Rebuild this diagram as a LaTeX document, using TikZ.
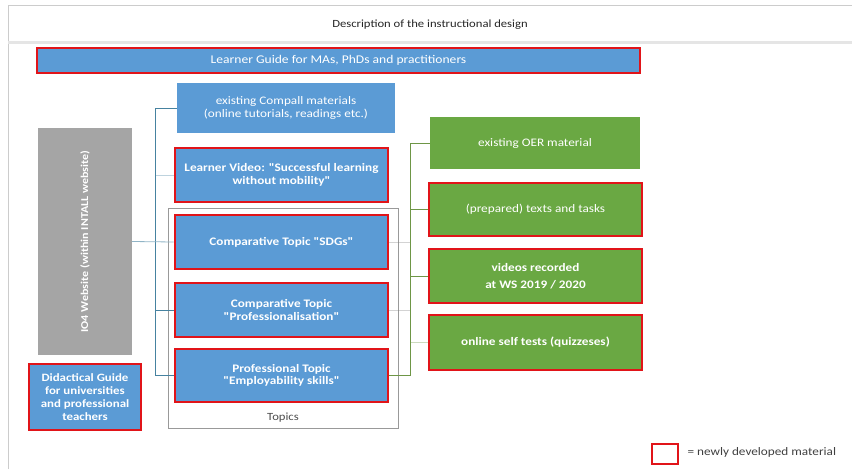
\documentclass[tikz,border=0pt]{standalone}
\usepackage{fontspec}
\setmainfont[FakeStretch=1.15, Ligatures=TeXOff]{Carlito}
\definecolor{boxblue}{RGB}{91,155,213}
\definecolor{boxgreen}{RGB}{106,168,67}
\definecolor{boxgray}{RGB}{165,165,165}
\definecolor{newred}{RGB}{225,20,25}
\definecolor{lineblue}{RGB}{70,130,160}
\definecolor{linegreen}{RGB}{110,150,70}
\begin{document}
\begin{tikzpicture}[x=1pt,y=-1pt,
  base/.style={rectangle, inner sep=2pt, align=center, text=white, font=\fontsize{11.5}{12.5}\selectfont},
  bluebox/.style={base, fill=boxblue},
  greenbox/.style={base, fill=boxgreen},
  newmat/.style={draw=newred, line width=2.6pt, font=\bfseries\fontsize{11.5}{12.5}\selectfont},
  conn/.style={line width=0.8pt},
  faint/.style={line width=0.5pt, opacity=0.35}]
\useasboundingbox (0,0) rectangle (852,469);
% frame
\draw[gray!40, line width=1pt] (8,469) -- (8,5) -- (852,5);
\draw[gray!20, line width=3pt] (8,42) -- (852,42);
\node[font=\fontsize{11}{12}\selectfont, text=black!85] (title) at (430,25) {Description of the instructional design};
% top guide
\node[bluebox, newmat, font=\fontsize{11.8}{12.5}\selectfont, minimum width=603pt, minimum height=25pt] (guide) at (338.5,60.5) {Learner Guide for MAs, PhDs and practitioners};
% middle column
\node[bluebox, minimum width=218pt, minimum height=50pt] (compall) at (286,108) {existing Compall materials\\(online tutorials, readings etc.)};
\node[bluebox, newmat, minimum width=213pt, minimum height=54pt] (video) at (281.5,175) {Learner Video: "Successful learning\\without mobility"};
\draw[gray!80, line width=0.8pt] (168,208) rectangle (398,428);
\node[font=\fontsize{11}{12}\selectfont, text=black!70] (topics) at (283,418) {Topics};
\node[bluebox, newmat, minimum width=213pt, minimum height=54pt] (sdgs) at (281.5,242) {Comparative Topic "SDGs"};
\node[bluebox, newmat, minimum width=213pt, minimum height=54pt] (prof) at (281.5,310) {Comparative Topic\\"Professionalisation"};
\node[bluebox, newmat, minimum width=213pt, minimum height=53pt] (employ) at (281.5,375.5) {Professional Topic\\"Employability skills"};
% left column
\node[base, fill=boxgray, minimum width=94pt, minimum height=227pt] (io4) at (85,241.5) {};
\node[rotate=90, text=white, font=\bfseries\fontsize{10.5}{12}\selectfont] (io4t) at (io4.center) {IO4 Website (within INTALL website)};
\node[bluebox, newmat, minimum width=112pt, minimum height=66pt, font=\bfseries\fontsize{11.2}{13}\selectfont] (didac) at (85,397) {Didactical Guide\\for universities\\and professional\\teachers};
% right column
\node[greenbox, minimum width=210pt, minimum height=52pt] (oer) at (535,143) {existing OER material};
\node[greenbox, newmat, font=\fontsize{11.5}{12.5}\selectfont, minimum width=213pt, minimum height=53pt] (prep) at (535.5,209.5) {(prepared) texts and tasks};
\node[greenbox, newmat, font=\bfseries\fontsize{11.5}{16.5}\selectfont, minimum width=213pt, minimum height=54pt] (vids) at (535.5,276) {videos recorded\\at WS 2019 / 2020};
\node[greenbox, newmat, minimum width=213pt, minimum height=55pt] (quiz) at (535.5,342.5) {online self tests (quizzeses)};
% left connectors
\coordinate (spL) at (155,0);
\coordinate (spR) at (410,0);
\draw[conn, lineblue] (compall.west) -- (compall.west -| spL) |- (employ.west);
\draw[conn, lineblue] (prof.west -| spL) -- (prof.west);
\draw[conn, lineblue!60] (io4.east) -- (sdgs.west);
\draw[faint, lineblue] (video.west -| spL) -- (video.west);
% right connectors
\draw[conn, linegreen] (oer.west) -- (oer.west -| spR) |- (employ.east);
\draw[conn, linegreen] (prep.west -| spR) -- (prep.west);
\draw[conn, linegreen] (vids.west -| spR) -- (vids.west);
\draw[faint, linegreen] (quiz.west -| spR) -- (quiz.west);
\draw[faint, gray] (sdgs.east) -- (sdgs.east -| spR);
\draw[faint, gray] (prof.east) -- (prof.east -| spR);
% legend
\node[draw=newred, line width=2.6pt, minimum width=26pt, minimum height=20pt, inner sep=0pt] (legbox) at (665,454) {};
\node[anchor=west, text=black!75, font=\fontsize{11.5}{12}\selectfont] (legtext) at (684,452) {= newly developed material};
\end{tikzpicture}
\end{document}
